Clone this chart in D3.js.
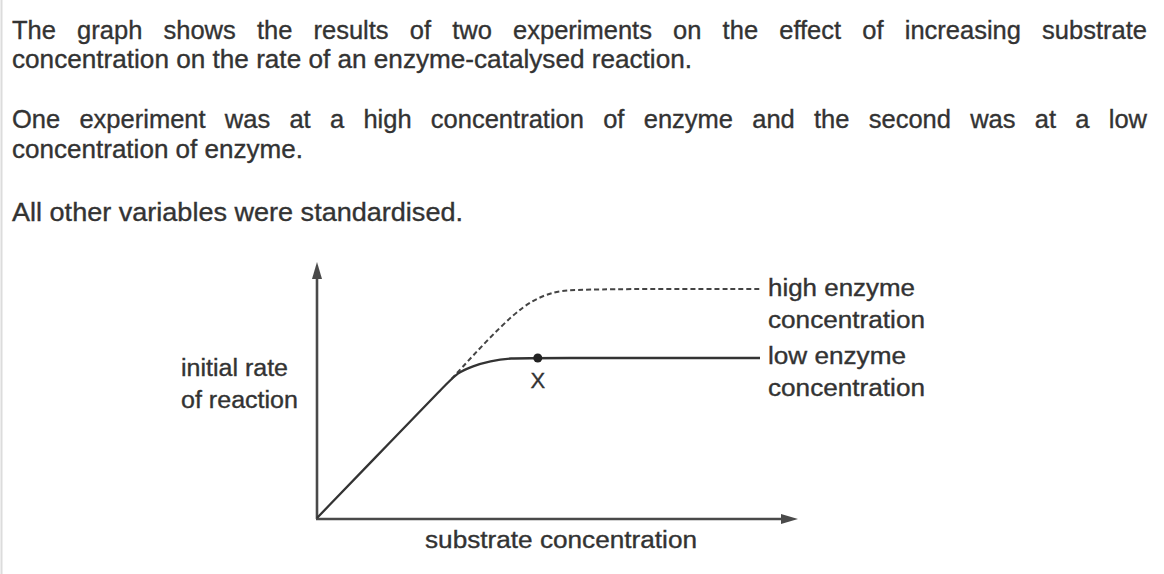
<!DOCTYPE html>
<html>
<head>
<meta charset="utf-8">
<script src="https://cdn.jsdelivr.net/npm/d3@7"></script>
<style>
html,body{margin:0;padding:0;background:#fff;}
svg{display:block;}
</style>
</head>
<body>
<svg id="chart" width="1164" height="574"></svg>
<script>
// ---- text content ----
const introLines = [
  "The graph shows the results of two experiments on the effect of increasing substrate",
  "concentration on the rate of an enzyme-catalysed reaction.",
  "One experiment was at a high concentration of enzyme and the second was at a low",
  "concentration of enzyme.",
  "All other variables were standardised."
];
const introJustify = [true, false, true, false, false];
const yAxisLabel = ["initial rate", "of reaction"];
const xAxisLabel = "substrate concentration";
const highLabel = ["high enzyme", "concentration"];
const lowLabel = ["low enzyme", "concentration"];
const pointLabel = "X";

// ---- data (substrate concentration, initial rate), arbitrary units ----
const lowX  = [0, 1.5, 2.7, 2.91, 3.24, 3.60, 4.01, 4.59, 9.21];
const lowY  = [0, 2.92, 5.25, 5.66, 5.94, 6.13, 6.25, 6.25, 6.25];
const highX = [2.8, 2.95, 3.53, 4.07, 4.49, 4.91, 5.32, 9.25];
const highY = [5.44, 5.74, 6.93, 7.93, 8.52, 8.83, 8.95, 8.95];
const markX = [4.59];
const markY = [6.25];

const svg = d3.select("#chart");
const FONT = "'Liberation Sans', Arial, Helvetica, sans-serif";
const TEXT = "#333";

// faint left border of the scanned page
svg.append("line").attr("x1", 1.5).attr("x2", 1.5).attr("y1", 0).attr("y2", 574)
  .attr("stroke", "#dcdcdc").attr("stroke-width", 2);

function styleText(sel, size) {
  return sel.attr("font-family", FONT).attr("font-size", size)
    .attr("fill", TEXT).attr("stroke", TEXT).attr("stroke-width", 0.35);
}

// ---- intro paragraph ----
const introLeft = 12, introRight = 1147;
const introBase = [39, 68, 128, 158, 221];
const introWidths = [null, 680, null, 291, 451];
introLines.forEach((line, i) => {
  const g = styleText(svg.append("text").attr("y", introBase[i]), 25.5);
  if (introJustify[i]) {
    const words = line.split(" ");
    const widths = words.map(w => {
      const t = svg.append("text").attr("font-family", FONT).attr("font-size", 25.5).text(w);
      const wd = t.node().getComputedTextLength();
      t.remove();
      return wd;
    });
    const total = d3.sum(widths);
    const gap = (introRight - introLeft - total) / (words.length - 1);
    let xx = introLeft;
    words.forEach((w, j) => {
      g.append("tspan").attr("x", xx).text(w);
      xx += widths[j] + gap;
    });
  } else {
    g.attr("x", introLeft).text(line)
      .attr("textLength", introWidths[i]).attr("lengthAdjust", "spacingAndGlyphs");
  }
});

// ---- chart ----
const x = d3.scaleLinear().domain([0, 10]).range([317, 798]);
const y = d3.scaleLinear().domain([0, 10]).range([518, 262]);

const AXIS = "#4a4a4a";
// y axis
svg.append("line")
  .attr("x1", x(0)).attr("x2", x(0))
  .attr("y1", y(0) + 1).attr("y2", y(10) + 10)
  .attr("stroke", AXIS).attr("stroke-width", 2.6);
svg.append("path")
  .attr("d", `M${x(0)},${y(10)} L${x(0) - 5},${y(10) + 17} L${x(0) + 5},${y(10) + 17} Z`)
  .attr("fill", AXIS);
// x axis
svg.append("line")
  .attr("x1", x(0) - 1).attr("x2", x(10) - 10)
  .attr("y1", y(0) + 1).attr("y2", y(0) + 1)
  .attr("stroke", AXIS).attr("stroke-width", 2.6);
svg.append("path")
  .attr("d", `M${x(10)},${y(0) + 1} L${x(10) - 17},${y(0) + 1 - 5} L${x(10) - 17},${y(0) + 1 + 5} Z`)
  .attr("fill", AXIS);

const line = d3.line().x(d => x(d[0])).y(d => y(d[1])).curve(d3.curveBasis);
const lowData = lowX.map((v, i) => [v, lowY[i]]);
const highData = highX.map((v, i) => [v, highY[i]]);

svg.append("path").datum(highData).attr("d", line)
  .attr("fill", "none").attr("stroke", "#444").attr("stroke-width", 2)
  .attr("stroke-dasharray", "5,3");
svg.append("path").datum(lowData).attr("d", line)
  .attr("fill", "none").attr("stroke", "#333").attr("stroke-width", 2.3);

svg.selectAll("circle.mark").data(markX.map((v, i) => [v, markY[i]])).enter()
  .append("circle").attr("class", "mark")
  .attr("cx", d => x(d[0])).attr("cy", d => y(d[1])).attr("r", 4.5)
  .attr("fill", "#222");
styleText(svg.append("text")
  .attr("x", x(markX[0])).attr("y", y(markY[0]) + 30)
  .attr("text-anchor", "middle"), 22)
  .text(pointLabel);

// labels
function label(lines, x0, bases, widths) {
  lines.forEach((t, i) => {
    styleText(svg.append("text").attr("x", x0).attr("y", bases[i]), 23)
      .attr("textLength", widths[i]).attr("lengthAdjust", "spacingAndGlyphs")
      .text(t);
  });
}
label(yAxisLabel, 181, [376, 408], [107, 117]);
label(highLabel, 768, [296, 328], [147, 157]);
label(lowLabel, 768, [364, 396], [138, 157]);
styleText(svg.append("text").attr("x", 425).attr("y", 548), 23)
  .attr("textLength", 272).attr("lengthAdjust", "spacingAndGlyphs")
  .text(xAxisLabel);
</script>
</body>
</html>
